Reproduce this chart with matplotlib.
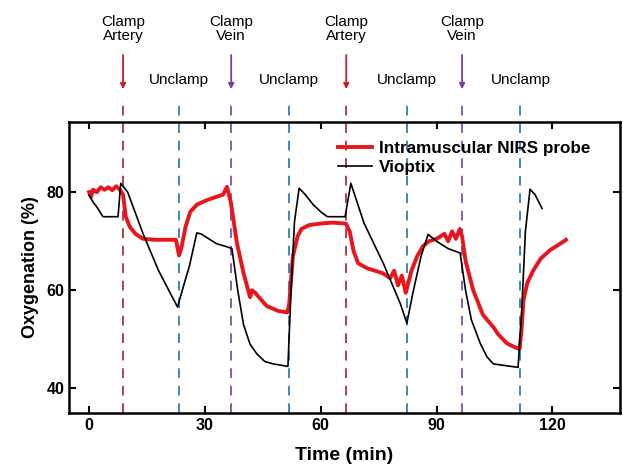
import matplotlib
matplotlib.use("Agg")
import matplotlib.pyplot as plt

plt.rcParams['font.family'] = ['Liberation Sans', 'DejaVu Sans']

# Vioptix (black)
vio_t = [0, 1, 2, 3.6, 7.5, 8.2, 10, 14, 18, 22.9, 24.5, 26, 27.9, 29, 31, 33, 36, 37,
         38.5, 40, 41.7, 43.5, 45.5, 47.7, 51.5, 52.3, 53.2, 54.4, 56, 58, 60, 61.7, 66.3,
         67.8, 71.2, 76.2, 80.6, 82.3, 84, 86, 87.8, 90, 93, 96.1, 97.5, 99, 101.3, 103, 104.7,
         111.1, 112, 113, 114.2, 115.5, 117.3]
vio_y = [79.4, 78, 77, 75, 75, 81.8, 80, 71.5, 64, 56.6, 61, 65, 71.7, 71.5, 70.5, 69.5, 68.8, 68.5,
         60, 53, 49, 47, 45.5, 45, 44.5, 60, 74, 80.8, 79.5, 77.5, 76, 75, 75,
         81.8, 73.7, 65.5, 57.3, 53.3, 60, 67, 71.4, 70, 68.5, 67.6, 60, 54, 49.2, 46.5, 45,
         44.3, 55, 72, 80.6, 79.5, 76.7]

# Intramuscular NIRS probe (red)
nirs_t = [0, 0.5, 1, 2, 3, 4, 5, 6, 7, 8, 8.8, 9.5, 10.5, 12, 14, 17, 20, 22.5, 23.3, 24, 25,
          26.2, 28, 30, 32, 34.7, 35.7, 36.7, 38.3, 40, 41.7, 42.2, 43, 46, 49, 51.3, 51.8,
          52.8, 54, 55, 57, 60, 63, 66.5, 67.5, 68.5, 69.7, 72, 76, 78, 79, 80, 81, 82, 82.5,
          83.5, 85, 86.5, 88, 90, 92, 93, 94, 95, 96, 96.6, 97.5, 99.5, 102, 104.7, 106,
          108.2, 110, 111.5, 112, 112.5, 113.5, 115, 117, 119.4, 121, 122.8, 123.5]
nirs_y = [80, 79, 80.5, 80, 81, 80.5, 81, 80.4, 81.2, 80.5, 79.5, 75, 73, 71.5, 70.5, 70.3, 70.3,
          70.3, 67.1, 69, 73, 76, 77.5, 78.2, 78.8, 79.5, 81.1, 78, 69.6, 63.5, 58.6, 60, 59.5,
          56.8, 55.8, 55.5, 57, 67, 71, 72.5, 73.3, 73.6, 73.8, 73.6, 72, 68, 65.5, 64.5, 63.5,
          62.5, 64, 61, 63, 59.5, 61, 64, 67, 69, 70, 70.5, 71.5, 70, 72, 70.5, 72.5, 71, 66,
          60, 55, 52.5, 51, 49.2, 48.5, 48, 52, 58, 61.5, 64, 66.5, 68.2, 69, 69.9, 70.3]

events_t = [8.8, 23.3, 36.8, 51.8, 66.6, 82.4, 96.6, 111.7]
events_kind = ['artery', 'unclamp', 'vein', 'unclamp', 'artery', 'unclamp', 'vein', 'unclamp']
line_colors = {'artery': '#b0404c', 'unclamp': '#3a86c8', 'vein': '#8a5cb4'}
arrow_colors = {'artery': '#c8202a', 'vein': '#7a40a8'}
labels = {'artery': 'Clamp\nArtery', 'vein': 'Clamp\nVein', 'unclamp': 'Unclamp'}

fig = plt.figure(figsize=(6.23, 4.68), dpi=100)
ax = fig.add_axes([69/623, 1-413/468, 551/623, 291/468])

ax.plot(nirs_t, nirs_y, color='#e8161c', lw=2.8, label='Intramuscular NIRS probe', zorder=3)
ax.plot(vio_t, vio_y, color='black', lw=1.2, label='Vioptix', zorder=4)

trans = ax.get_xaxis_transform()
for t, k in zip(events_t, events_kind):
    ax.plot([t, t], [0, 1.076], transform=trans, clip_on=False, color=line_colors[k],
            lw=1.4, ls=(0, (5, 4)), zorder=2)
    if k == 'unclamp':
        ax.text(t, 1.145, labels[k], transform=trans, ha='center', va='center', fontsize=11)
    else:
        ax.annotate('', xy=(t, 1.103), xytext=(t, 1.24), xycoords=trans, textcoords=trans,
                    arrowprops=dict(arrowstyle='-|>', color=arrow_colors[k], lw=1.3,
                                    mutation_scale=8), annotation_clip=False)
        ax.text(t, 1.318, labels[k], transform=trans, ha='center', va='center', fontsize=11,
                linespacing=1.0)

ax.set_xlim(-5.2, 137.5)
ax.set_ylim(35, 94.3)
ax.set_xticks([0, 30, 60, 90, 120])
ax.set_yticks([40, 60, 80])
ax.tick_params(direction='in', top=True, right=True, length=5, width=1.5, labelsize=11.5)
for lab in ax.get_xticklabels() + ax.get_yticklabels():
    lab.set_fontweight('bold')
for s in ax.spines.values():
    s.set_linewidth(1.8)

ax.set_xlabel('Time (min)', fontsize=14, fontweight='bold', labelpad=10)
ax.set_ylabel('Oxygenation (%)', fontsize=13, fontweight='bold', labelpad=5)

leg = ax.legend(loc='upper right', bbox_to_anchor=(0.965, 0.97), frameon=False,
                prop={'weight': 'bold', 'size': 12.3}, handlelength=2.0, handletextpad=0.4,
                labelspacing=0.25, borderaxespad=0.2)

fig.savefig('out.png', dpi=100)
